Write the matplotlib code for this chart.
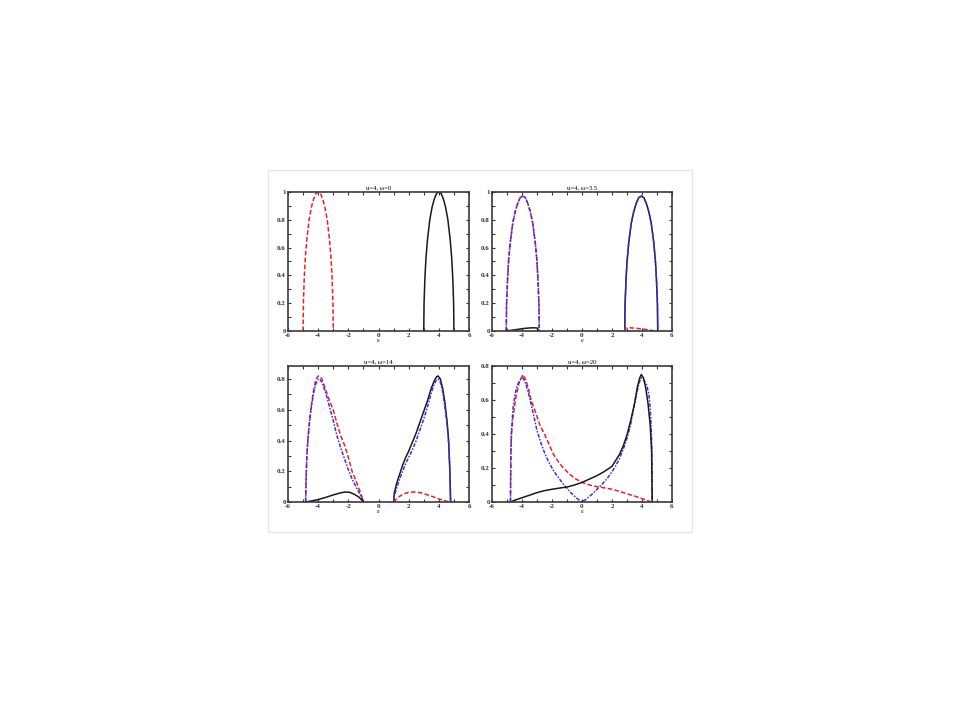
import matplotlib
matplotlib.use("Agg")
import matplotlib.pyplot as plt
from matplotlib.patches import Rectangle
from matplotlib.ticker import MultipleLocator

plt.rcParams['font.family'] = ['Liberation Serif', 'DejaVu Serif']

titles = ["u=4, ω=0", "u=4, ω=3.5", "u=4, ω=14", "u=4, ω=20"]
ylims = [1.0, 1.0, 0.885, 0.8]

# panel 1 (ω=0): two semicircles
p1_h = [0, 0.2, 0.39, 0.53, 0.66, 0.8, 0.89, 0.95, 0.99, 1.0,
        0.99, 0.95, 0.89, 0.8, 0.66, 0.53, 0.39, 0.2, 0]
p1_red_x = [-5.0, -4.98, -4.92, -4.85, -4.75, -4.6, -4.45, -4.3, -4.15, -4.0,
            -3.85, -3.7, -3.55, -3.4, -3.25, -3.15, -3.08, -3.02, -3.0]
p1_blk_x = [3.0, 3.02, 3.08, 3.15, 3.25, 3.4, 3.55, 3.7, 3.85, 4.0,
            4.15, 4.3, 4.45, 4.6, 4.75, 4.85, 4.92, 4.98, 5.0]

# panel 2 (ω=3.5)
p2_h = [0, 0.19, 0.38, 0.51, 0.64, 0.78, 0.86, 0.92, 0.96, 0.97,
        0.96, 0.92, 0.86, 0.78, 0.64, 0.51, 0.38, 0.19, 0]
p2_left_x = [-5.05, -5.03, -4.96, -4.89, -4.78, -4.61, -4.45, -4.28, -4.12, -3.95,
             -3.78, -3.62, -3.45, -3.29, -3.12, -3.01, -2.94, -2.87, -2.85]
p2_right_x = [2.85, 2.87, 2.94, 3.01, 3.12, 3.29, 3.45, 3.62, 3.78, 3.95,
              4.12, 4.28, 4.45, 4.61, 4.78, 4.89, 4.96, 5.03, 5.05]
p2_blk_bump_x = [-5.0, -4.8, -4.5, -4.2, -3.9, -3.6, -3.3, -3.0, -2.88]
p2_blk_bump_y = [0, 0.004, 0.008, 0.013, 0.018, 0.021, 0.023, 0.022, 0]
p2_red_bump_x = [2.85, 2.9, 3.2, 3.6, 3.9, 4.2, 4.5, 4.8, 5.0]
p2_red_bump_y = [0, 0.02, 0.023, 0.02, 0.016, 0.012, 0.007, 0.002, 0]

# panel 3 (ω=14)
p3_left_x = [-4.83, -4.8, -4.75, -4.67, -4.55, -4.45, -4.3, -4.15, -4.0, -3.9,
             -3.75, -3.5, -3.25, -3.0, -2.75, -2.5, -2.25, -2.0, -1.75, -1.5,
             -1.25, -1.1, -1.0]
p3_red_l = [0, 0.15, 0.3, 0.42, 0.55, 0.63, 0.73, 0.8, 0.82, 0.82,
            0.8, 0.73, 0.66, 0.6, 0.51, 0.43, 0.37, 0.29, 0.2, 0.14,
            0.075, 0.035, 0]
p3_blue_l = [0, 0.15, 0.3, 0.42, 0.54, 0.62, 0.71, 0.77, 0.8, 0.8,
             0.78, 0.71, 0.62, 0.53, 0.43, 0.35, 0.28, 0.21, 0.15, 0.1,
             0.055, 0.025, 0]
p3_blk_l_x = [-4.83, -4.5, -4.0, -3.5, -3.0, -2.5, -2.2, -1.9, -1.6, -1.3, -1.1, -1.0]
p3_blk_l_y = [0, 0.006, 0.016, 0.03, 0.046, 0.06, 0.065, 0.063, 0.05, 0.032, 0.012, 0]
p3_right_x = [1.0, 1.05, 1.2, 1.4, 1.6, 1.8, 2.0, 2.25, 2.5, 2.75,
              3.0, 3.25, 3.5, 3.7, 3.85, 3.95, 4.1, 4.25, 4.4, 4.55,
              4.65, 4.73, 4.78]
p3_blk_r = [0, 0.06, 0.12, 0.18, 0.24, 0.29, 0.33, 0.39, 0.45, 0.52,
            0.59, 0.66, 0.74, 0.79, 0.815, 0.82, 0.8, 0.74, 0.65, 0.52,
            0.4, 0.2, 0]
p3_blue_r = [0, 0.04, 0.09, 0.15, 0.2, 0.25, 0.29, 0.34, 0.4, 0.47,
             0.54, 0.62, 0.71, 0.77, 0.795, 0.8, 0.78, 0.72, 0.62, 0.5,
             0.38, 0.22, 0]
p3_red_r_x = [1.0, 1.3, 1.6, 2.0, 2.4, 2.8, 3.2, 3.6, 4.0, 4.4, 4.7]
p3_red_r_y = [0, 0.03, 0.05, 0.063, 0.065, 0.06, 0.048, 0.035, 0.02, 0.008, 0]

# panel 4 (ω=20)
p4_red_x = [-4.77, -4.74, -4.7, -4.6, -4.4, -4.2, -3.95, -3.75, -3.55, -3.4,
            -3.1, -2.8, -2.5, -2.2, -1.9, -1.6, -1.25, -0.9, -0.5, 0.0,
            0.5, 1.0, 1.5, 2.0, 2.5, 3.0, 3.5, 4.0, 4.4, 4.64]
p4_red_y = [0, 0.3, 0.4, 0.5, 0.62, 0.7, 0.75, 0.72, 0.66, 0.6,
            0.53, 0.45, 0.4, 0.34, 0.28, 0.24, 0.2, 0.17, 0.14, 0.115,
            0.1, 0.09, 0.083, 0.075, 0.063, 0.048, 0.035, 0.02, 0.007, 0]
p4_blue_x = [-4.77, -4.74, -4.7, -4.6, -4.45, -4.3, -4.1, -3.95, -3.8, -3.6,
             -3.4, -3.2, -3.0, -2.75, -2.5, -2.25, -2.0, -1.75, -1.5, -1.25,
             -1.0, -0.75, -0.5, -0.25, 0.0, 0.25, 0.5, 0.75, 1.0, 1.25,
             1.5, 1.75, 2.0, 2.25, 2.5, 2.75, 3.0, 3.2, 3.4, 3.6,
             3.8, 3.95, 4.1, 4.3, 4.45, 4.55, 4.62, 4.66, 4.68]
p4_blue_y = [0, 0.3, 0.42, 0.55, 0.64, 0.69, 0.72, 0.73, 0.71, 0.65,
             0.58, 0.5, 0.42, 0.35, 0.29, 0.24, 0.2, 0.165, 0.135, 0.105,
             0.08, 0.055, 0.035, 0.015, 0, 0.015, 0.033, 0.052, 0.075, 0.097,
             0.12, 0.147, 0.178, 0.213, 0.256, 0.31, 0.375, 0.44, 0.53, 0.62,
             0.7, 0.73, 0.72, 0.69, 0.64, 0.55, 0.42, 0.3, 0]
p4_blk_x = [-4.77, -4.5, -4.0, -3.5, -3.0, -2.5, -2.0, -1.5, -1.0, -0.5,
            0.0, 0.5, 1.0, 1.5, 2.0, 2.5, 2.75, 3.0, 3.25, 3.5,
            3.7, 3.85, 3.95, 4.1, 4.25, 4.4, 4.55, 4.64, 4.68]
p4_blk_y = [0, 0.01, 0.025, 0.04, 0.055, 0.067, 0.075, 0.082, 0.088, 0.1,
            0.115, 0.135, 0.155, 0.18, 0.21, 0.28, 0.33, 0.395, 0.48, 0.578,
            0.68, 0.73, 0.75, 0.73, 0.67, 0.58, 0.45, 0.3, 0]

red = dict(color='#e8202a', ls=(0, (3, 1.5)), lw=1.1)
blk = dict(color='#1a1a1a', ls='-', lw=1.1)
blu = dict(color='#3232e6', ls=(0, (2.5, 1, 1, 1)), lw=1.1)

fig = plt.figure(figsize=(9.6, 7.2), dpi=100)
fig.patches.append(Rectangle((268 / 960, 1 - 532 / 720), 424 / 960, 362 / 720,
                             transform=fig.transFigure, fill=False,
                             ec='#e6e6e6', lw=1.0))

boxes = [(288, 192, 469, 331), (492, 192, 672, 331),
         (288, 366, 469, 502), (492, 366, 672, 502)]
axes = []
for (l, t, r, b) in boxes:
    ax = fig.add_axes([l / 960, 1 - b / 720, (r - l) / 960, (b - t) / 720])
    axes.append(ax)

a = axes[0]
a.plot(p1_red_x, p1_h, **red)
a.plot(p1_blk_x, p1_h, **blk)

a = axes[1]
a.plot(p2_left_x, p2_h, **red)
a.plot(p2_left_x, p2_h, **blu)
a.plot(p2_right_x, p2_h, **blk)
a.plot(p2_right_x, p2_h, **blu)
a.plot(p2_blk_bump_x, p2_blk_bump_y, **blk)
a.plot(p2_red_bump_x, p2_red_bump_y, **red)

a = axes[2]
a.plot(p3_left_x, p3_red_l, **red)
a.plot(p3_left_x, p3_blue_l, **blu)
a.plot(p3_blk_l_x, p3_blk_l_y, **blk)
a.plot(p3_right_x, p3_blk_r, **blk)
a.plot(p3_right_x, p3_blue_r, **blu)
a.plot(p3_red_r_x, p3_red_r_y, **red)

a = axes[3]
a.plot(p4_red_x, p4_red_y, **red)
a.plot(p4_blue_x, p4_blue_y, **blu)
a.plot(p4_blk_x, p4_blk_y, **blk)

for ax, title, ytop in zip(axes, titles, ylims):
    ax.set_xlim(-6, 6)
    ax.set_ylim(0, ytop)
    ax.xaxis.set_minor_locator(MultipleLocator(1))
    ax.yaxis.set_minor_locator(MultipleLocator(0.1))
    ax.tick_params(which='both', direction='in', top=True, right=True,
                   length=2.5, width=0.8, labelsize=5, pad=1.5, colors='#333333')
    ax.set_xticks(range(-6, 7, 2))
    ax.set_xticklabels([str(v) for v in range(-6, 7, 2)])
    yt = [round(0.2 * i, 1) for i in range(int(ytop / 0.2 + 1e-6) + 1)]
    ax.set_yticks(yt)
    ax.set_yticklabels(['0' if v == 0 else ('1' if v == 1 else f'{v:.1f}') for v in yt])
    for lab in ax.get_xticklabels() + ax.get_yticklabels():
        lab.set_fontweight('bold')
    for s in ax.spines.values():
        s.set_linewidth(1.2)
        s.set_color('#3a3a3a')
    ax.set_title(title, fontsize=4.8, pad=2)
    ax.set_xlabel('ε', fontsize=5, labelpad=0)

fig.savefig('out.png', dpi=100)
